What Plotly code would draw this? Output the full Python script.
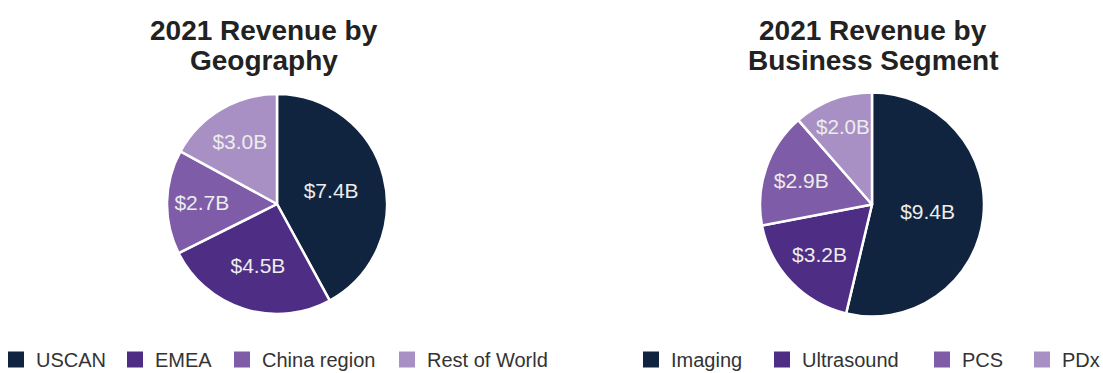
import plotly.graph_objects as go

geo_labels = ["USCAN", "EMEA", "China region", "Rest of World"]
geo_values = [7.4, 4.5, 2.7, 3.0]
seg_labels = ["Imaging", "Ultrasound", "PCS", "PDx"]
seg_values = [9.4, 3.2, 2.9, 2.0]
colors = ["#10243f", "#4e2d84", "#7e5ca7", "#a890c5"]

W, H = 1103, 373
FONT = "Liberation Sans"


def dom(cx, cy, side):
    return dict(x=[(cx - side / 2) / W, (cx + side / 2) / W],
                y=[1 - (cy + side / 2) / H, 1 - (cy - side / 2) / H])


fig = go.Figure()
common = dict(
    sort=False, direction="clockwise", rotation=0,
    marker=dict(colors=colors, line=dict(color="white", width=2.5)),
    textinfo="value", texttemplate="$%{value:.1f}B",
    textposition="inside", insidetextorientation="horizontal",
    insidetextfont=dict(color="#ececec", size=21, family=FONT),
    hoverinfo="label+value", showlegend=False,
)
fig.add_trace(go.Pie(labels=geo_labels, values=geo_values, domain=dom(277, 204, 220), **common))
fig.add_trace(go.Pie(labels=seg_labels, values=seg_values, domain=dom(872, 204.5, 224), **common))

# legend entries: one small legend per item so each sits where the reference puts it
leg_font = dict(family=FONT, size=20, color="#333333")
item_left = [0, 119, 226, 391, 635, 766, 926, 1026]
layout_legends = {}
k = 0
for labels in (geo_labels, seg_labels):
    for lab, col in zip(labels, colors):
        key = "legend" if k == 0 else f"legend{k + 1}"
        fig.add_trace(go.Scatter(x=[None], y=[None], mode="markers", name=lab,
                                 marker=dict(symbol="square", size=16, color=col),
                                 legend=key, showlegend=True, hoverinfo="skip"))
        layout_legends[key] = dict(orientation="h", x=item_left[k] / W, y=-6 / H,
                                   xanchor="left", yanchor="bottom", font=leg_font,
                                   itemwidth=30, indentation=-4,
                                   bgcolor="rgba(0,0,0,0)")
        k += 1

title_font = dict(family=FONT, size=28, color="#222222")
for cx, lines in ((263.5, ["2021 Revenue by", "Geography"]),
                  (873, ["2021 Revenue by", "Business Segment"])):
    for cy, line in zip((30, 60), lines):
        fig.add_annotation(text=f"<b>{line}</b>", x=cx / W, y=1 - cy / H,
                           xref="paper", yref="paper", xanchor="center", yanchor="middle",
                           showarrow=False, font=title_font)

fig.update_layout(
    width=W, height=H,
    margin=dict(l=0, r=0, t=0, b=0, pad=0, autoexpand=False),
    paper_bgcolor="white", plot_bgcolor="white",
    xaxis=dict(visible=False), yaxis=dict(visible=False),
    **layout_legends,
)
fig.write_html("out.html")
